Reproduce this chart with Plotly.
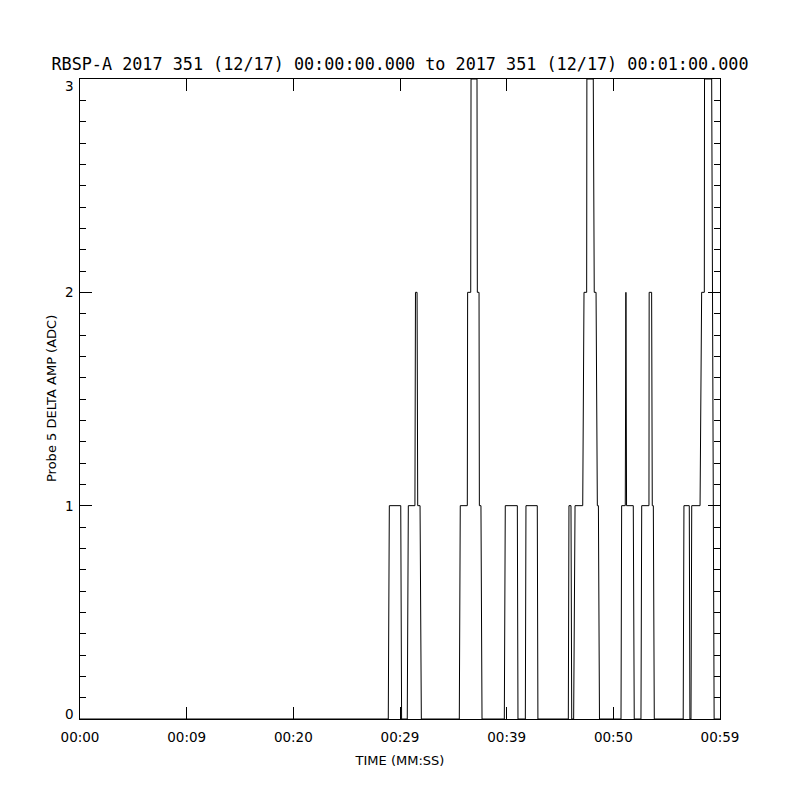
import plotly.graph_objects as go

# Probe 5 delta amplitude, vertices of the sampled trace (seconds after 00:00:00)
t_sec = [
    0.0, 28.90, 29.00, 30.07, 30.15,
    30.68, 30.78, 31.40, 31.45, 31.60, 31.66, 31.88, 32.00,
    35.56, 35.65, 36.31, 36.34, 36.63, 36.66, 37.22, 37.25, 37.41, 37.44, 37.59, 37.69,
    39.78, 39.87, 41.00, 41.06,
    41.75, 41.81, 42.87, 42.93,
    45.78, 45.84, 46.03, 46.10,
    46.28, 46.41, 47.13, 47.25, 47.50, 47.52, 48.12, 48.21, 48.38, 48.50, 48.60, 48.70,
    50.72, 50.78, 51.12, 51.18, 51.24, 51.87, 51.96,
    52.59, 52.66, 53.34, 53.36, 53.59, 53.65, 53.75, 53.84,
    56.55, 56.62, 57.12, 57.18,
    57.28, 57.35, 58.13, 58.28, 58.53, 58.55, 59.22, 59.45,
    60.0,
]
amp = [
    0, 0, 1, 1, 0,
    0, 1, 1, 2, 2, 1, 1, 0,
    0, 1, 1, 2, 2, 3, 3, 2, 2, 1, 1, 0,
    0, 1, 1, 0,
    0, 1, 1, 0,
    0, 1, 1, 0,
    0, 1, 1, 2, 2, 3, 3, 2, 2, 1, 1, 0,
    0, 1, 1, 2, 1, 1, 0,
    0, 1, 1, 2, 2, 1, 1, 0,
    0, 1, 1, 0,
    0, 1, 1, 2, 2, 3, 3, 0,
    0,
]

x_ticks = [0, 10, 20, 30, 40, 50, 60]
x_labels = ["00:00", "00:09", "00:20", "00:29", "00:39", "00:50", "00:59"]
y_ticks = [0, 1, 2, 3]
y_labels = ["0", "1", "2", "3"]
y_label_shift = [5, 0, 0, -7]

title = "RBSP-A 2017 351 (12/17) 00:00:00.000 to 2017 351 (12/17) 00:01:00.000"

# page body adds an 8px margin, so the figure is 792 square
W = H = 792

fig = go.Figure()
fig.add_trace(go.Scatter(x=t_sec, y=amp, mode="lines",
                         line=dict(color="black", width=1), showlegend=False))

fig.update_layout(
    width=W, height=H,
    paper_bgcolor="white", plot_bgcolor="white",
    margin=dict(l=72, r=80, t=71, b=81),
    font=dict(family="DejaVu Sans", size=13, color="black"),
    title=dict(text=title, x=(400 - 8) / W, xanchor="center", y=1 - 56 / H, yanchor="middle",
               font=dict(family="DejaVu Sans Mono", size=16.8, color="black")),
    xaxis=dict(
        range=[0, 60], tickmode="array", tickvals=x_ticks, ticktext=x_labels,
        ticks="inside", ticklen=12, tickwidth=1, tickcolor="black",
        showline=True, linecolor="black", linewidth=1, mirror="ticks",
        showgrid=False, zeroline=False,
        tickfont=dict(family="DejaVu Sans", size=13.5),
        ticklabelstandoff=6,
        title=dict(text="TIME (MM:SS)", standoff=11, font=dict(size=13)),
    ),
    yaxis=dict(
        range=[0, 3], tickmode="array", tickvals=y_ticks,
        ticks="inside", ticklen=12, tickwidth=1, tickcolor="black",
        minor=dict(ticks="inside", ticklen=6, dtick=0.1, tickcolor="black", showgrid=False),
        showline=True, linecolor="black", linewidth=1, mirror="ticks",
        showgrid=False, zeroline=False, showticklabels=False,
    ),
)

for v, lab, sh in zip(y_ticks, y_labels, y_label_shift):
    fig.add_annotation(x=0, xref="paper", xanchor="right", xshift=-4,
                       y=v, yref="y", yanchor="middle", yshift=sh,
                       text=lab, showarrow=False,
                       font=dict(family="DejaVu Sans", size=13.5))

fig.add_annotation(x=0, xref="paper", xanchor="center", xshift=-29,
                   y=0.5, yref="paper", yanchor="middle",
                   text="Probe 5 DELTA AMP (ADC)", textangle=-90, showarrow=False,
                   font=dict(family="DejaVu Sans", size=13))

fig.write_html("out.html")
